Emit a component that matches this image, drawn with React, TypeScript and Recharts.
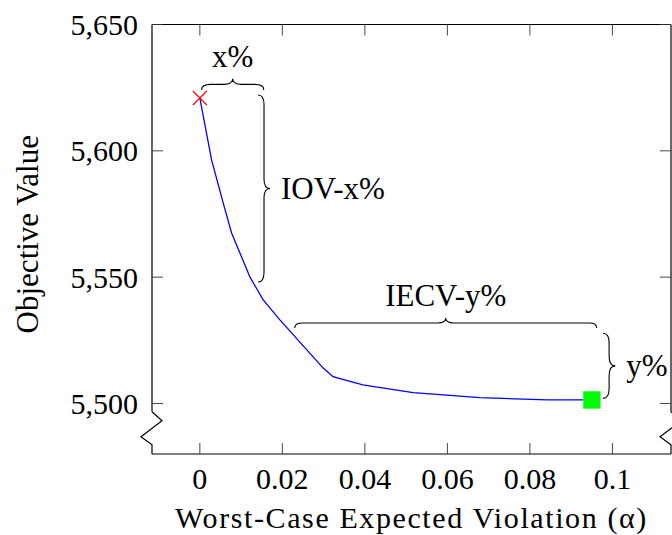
import React from 'react';
import { ComposedChart, Line, Scatter, XAxis, YAxis, ReferenceArea } from 'recharts';

// ---- data ----
const X_TICKS = [0, 0.02, 0.04, 0.06, 0.08, 0.1];
const X_TICK_LABELS = ['0', '0.02', '0.04', '0.06', '0.08', '0.1'];
const Y_TICKS = [5500, 5550, 5600, 5650];
const Y_TICK_LABELS = ['5,500', '5,550', '5,600', '5,650'];
const X_DOMAIN: [number, number] = [-0.0116, 0.1142];
const Y_DOMAIN: [number, number] = [5480, 5650];
const Y_BREAK = 5496.7;

const ALPHA = [0, 0.00284, 0.00565, 0.00769, 0.01213, 0.01535, 0.0194, 0.0299, 0.0323, 0.0395, 0.0517, 0.0679, 0.0842, 0.095];
const OBJECTIVE = [5620.9, 5596.4, 5579.4, 5567.5, 5550.1, 5541.0, 5533.1, 5514.0, 5510.6, 5507.4, 5504.3, 5502.3, 5501.4, 5501.4];

const START_POINT = [{ x: 0, y: 5620.9 }];
const END_POINT = [{ x: 0.095, y: 5501.4 }];

const BRACE_LABELS = ['x%', 'IOV-x%', 'IECV-y%', 'y%'];
const BRACE_DIRS = ['up', 'right', 'up', 'right'];
const BRACE_X1 = [0.0004, 0.0141, 0.0230, 0.0977];
const BRACE_X2 = [0.0155, 0.0170, 0.0962, 0.1007];
const BRACE_Y1 = [5624.1, 5548.1, 5529.9, 5502.0];
const BRACE_Y2 = [5628.5, 5622.1, 5533.8, 5527.8];

const X_LABEL = 'Worst-Case Expected Violation (α)';
const Y_LABEL = 'Objective Value';

const CURVE = ALPHA.map((x, i) => ({ x, y: OBJECTIVE[i] }));

// ---- styles ----
const FONT = "'Liberation Serif', 'DejaVu Serif', 'Noto Serif', Tinos, FreeSerif, 'Nimbus Roman', 'Times New Roman', serif";
const TICK_FS = 30;
const LABEL_FS = 30;
const TICK_LEN = 11;
const AXIS_STROKE = '#000';
const txt = { fontFamily: FONT };

const BottomTick = (p: any) => {
  const i = X_TICKS.findIndex((v) => Math.abs(v - p.payload.value) < 1e-9);
  return (
    <g>
      <line x1={p.x} y1={p.y} x2={p.x} y2={p.y - TICK_LEN} stroke="#333" strokeWidth={0.9} />
      <text x={p.x} y={p.y + 24} textAnchor="middle" dominantBaseline="central" style={txt} fontSize={TICK_FS} fill="#000">
        {X_TICK_LABELS[i]}
      </text>
    </g>
  );
};

const TopTick = (p: any) => (
  <line x1={p.x} y1={p.y} x2={p.x} y2={p.y + TICK_LEN} stroke="#333" strokeWidth={0.9} />
);

const LeftTick = (p: any) => {
  const i = Y_TICKS.findIndex((v) => Math.abs(v - p.payload.value) < 1e-9);
  return (
    <g>
      <line x1={p.x} y1={p.y} x2={p.x + TICK_LEN} y2={p.y} stroke="#333" strokeWidth={0.9} />
      <text x={p.x - 14} y={p.y} textAnchor="end" dominantBaseline="central" style={txt} fontSize={TICK_FS} fill="#000">
        {Y_TICK_LABELS[i]}
      </text>
    </g>
  );
};

const RightTick = (p: any) => (
  <line x1={p.x} y1={p.y} x2={p.x - TICK_LEN} y2={p.y} stroke="#333" strokeWidth={0.9} />
);

const UpperBorder = (p: any) => {
  const { x, y, width, height } = p;
  return (
    <g>
      <line x1={x} y1={y} x2={x} y2={y + height} stroke={AXIS_STROKE} strokeWidth={1.2} />
      <line x1={x + width} y1={y} x2={x + width} y2={y + height} stroke={AXIS_STROKE} strokeWidth={1.2} />
    </g>
  );
};

const LowerBorder = (p: any) => {
  const { x, y, width, height } = p;
  const zz = (bx: number) =>
    `M${bx},${y} L${bx + 10},${y + 9} L${bx - 11},${y + 25} L${bx},${y + 33} L${bx},${y + height}`;
  return (
    <g>
      <path d={zz(x)} fill="none" stroke={AXIS_STROKE} strokeWidth={1.2} />
      <path d={zz(x + width)} fill="none" stroke={AXIS_STROKE} strokeWidth={1.2} />
    </g>
  );
};

const makeBrace = (idx: number) => (p: any) => {
  const { x, y, width: w, height: h } = p;
  const dir = BRACE_DIRS[idx];
  const label = BRACE_LABELS[idx];
  if (dir === 'up') {
    const m = y + h / 2;
    const cx = x + w / 2;
    const r = Math.min(h * 0.8, w / 4);
    const d = `M${x},${y + h} Q${x},${m} ${x + r},${m} L${cx - r},${m} Q${cx},${m} ${cx},${y} Q${cx},${m} ${cx + r},${m} L${x + w - r},${m} Q${x + w},${m} ${x + w},${y + h}`;
    return (
      <g>
        <path d={d} fill="none" stroke="#000" strokeWidth={1.1} />
        <text x={cx} y={y - 12} textAnchor="middle" style={txt} fontSize={31} fill="#000">{label}</text>
      </g>
    );
  }
  const m = x + w / 2;
  const cy = y + h / 2;
  const r = Math.min(w * 0.8, h / 4);
  const d = `M${x},${y} Q${m},${y} ${m},${y + r} L${m},${cy - r} Q${m},${cy} ${x + w},${cy} Q${m},${cy} ${m},${cy + r} L${m},${y + h - r} Q${m},${y + h} ${x},${y + h}`;
  return (
    <g>
      <path d={d} fill="none" stroke="#000" strokeWidth={1.1} />
      <text x={x + w + 11} y={cy} textAnchor="start" dominantBaseline="central" style={txt} fontSize={31} fill="#000">{label}</text>
    </g>
  );
};

const CrossShape = (p: any) => {
  const { cx, cy } = p;
  const s = 7;
  return (
    <g>
      <line x1={cx - s} y1={cy - s} x2={cx + s} y2={cy + s} stroke="#ff0000" strokeWidth={1.2} />
      <line x1={cx - s} y1={cy + s} x2={cx + s} y2={cy - s} stroke="#ff0000" strokeWidth={1.2} />
    </g>
  );
};

const SquareShape = (p: any) => {
  const { cx, cy } = p;
  const s = 8.5;
  return <rect x={cx - s} y={cy - s} width={2 * s} height={2 * s} fill="#00ff00" stroke="#33ff33" strokeWidth={0.5} />;
};

const XLabel = (p: any) => {
  const vb = p.viewBox || {};
  return (
    <text x={vb.x + vb.width / 2} y={vb.y + 63} textAnchor="middle" dominantBaseline="central" style={{ ...txt, letterSpacing: '1.6px' }} fontSize={LABEL_FS} fill="#000">
      {X_LABEL}
    </text>
  );
};

const YLabel = (p: any) => {
  const vb = p.viewBox || {};
  const cx = vb.x - 124;
  const cy = vb.y + vb.height / 2 - 5;
  return (
    <text x={cx} y={cy} transform={`rotate(-90 ${cx} ${cy})`} textAnchor="middle" dominantBaseline="central" style={txt} fontSize={31} fill="#000">
      {Y_LABEL}
    </text>
  );
};

export default function App() {
  return (
    <div style={{ position: 'absolute', left: 0, top: 0 }}>
      <ComposedChart width={672} height={535} data={CURVE} margin={{ top: 23.5, right: 0, bottom: 80, left: 151 }}>
        <XAxis xAxisId="x" type="number" dataKey="x" domain={X_DOMAIN} ticks={X_TICKS} allowDataOverflow interval={0}
          height={1} tickSize={0} tickMargin={0} tickLine={false} axisLine={{ stroke: AXIS_STROKE, strokeWidth: 1.2 }}
          tick={BottomTick} label={<XLabel />} />
        <XAxis xAxisId="xt" orientation="top" type="number" dataKey="x" domain={X_DOMAIN} ticks={X_TICKS} allowDataOverflow interval={0}
          height={1} tickSize={0} tickMargin={0} tickLine={false} axisLine={{ stroke: AXIS_STROKE, strokeWidth: 1.2 }}
          tick={TopTick} />
        <YAxis yAxisId="y" type="number" dataKey="y" domain={Y_DOMAIN} ticks={Y_TICKS} allowDataOverflow interval={0}
          width={1} tickSize={0} tickMargin={0} tickLine={false} axisLine={false} tick={LeftTick} label={<YLabel />} />
        <YAxis yAxisId="yr" orientation="right" type="number" dataKey="y" domain={Y_DOMAIN} ticks={Y_TICKS} allowDataOverflow interval={0}
          width={1} tickSize={0} tickMargin={0} tickLine={false} axisLine={false} tick={RightTick} />

        <ReferenceArea xAxisId="x" yAxisId="y" x1={X_DOMAIN[0]} x2={X_DOMAIN[1]} y1={Y_BREAK} y2={Y_DOMAIN[1]}
          ifOverflow="visible" shape={UpperBorder} />
        <ReferenceArea xAxisId="x" yAxisId="y" x1={X_DOMAIN[0]} x2={X_DOMAIN[1]} y1={Y_DOMAIN[0]} y2={Y_BREAK}
          ifOverflow="visible" shape={LowerBorder} />

        {BRACE_LABELS.map((lab, i) => (
          <ReferenceArea key={lab} xAxisId="x" yAxisId="y" x1={BRACE_X1[i]} x2={BRACE_X2[i]} y1={BRACE_Y1[i]} y2={BRACE_Y2[i]}
            ifOverflow="visible" shape={makeBrace(i)} />
        ))}

        <Line xAxisId="x" yAxisId="y" type="linear" dataKey="y" stroke="#0000ff" strokeWidth={1.3} dot={false} activeDot={false} isAnimationActive={false} />
        <Scatter xAxisId="x" yAxisId="y" data={START_POINT} dataKey="y" shape={CrossShape} isAnimationActive={false} />
        <Scatter xAxisId="x" yAxisId="y" data={END_POINT} dataKey="y" shape={SquareShape} isAnimationActive={false} />
      </ComposedChart>
    </div>
  );
}
